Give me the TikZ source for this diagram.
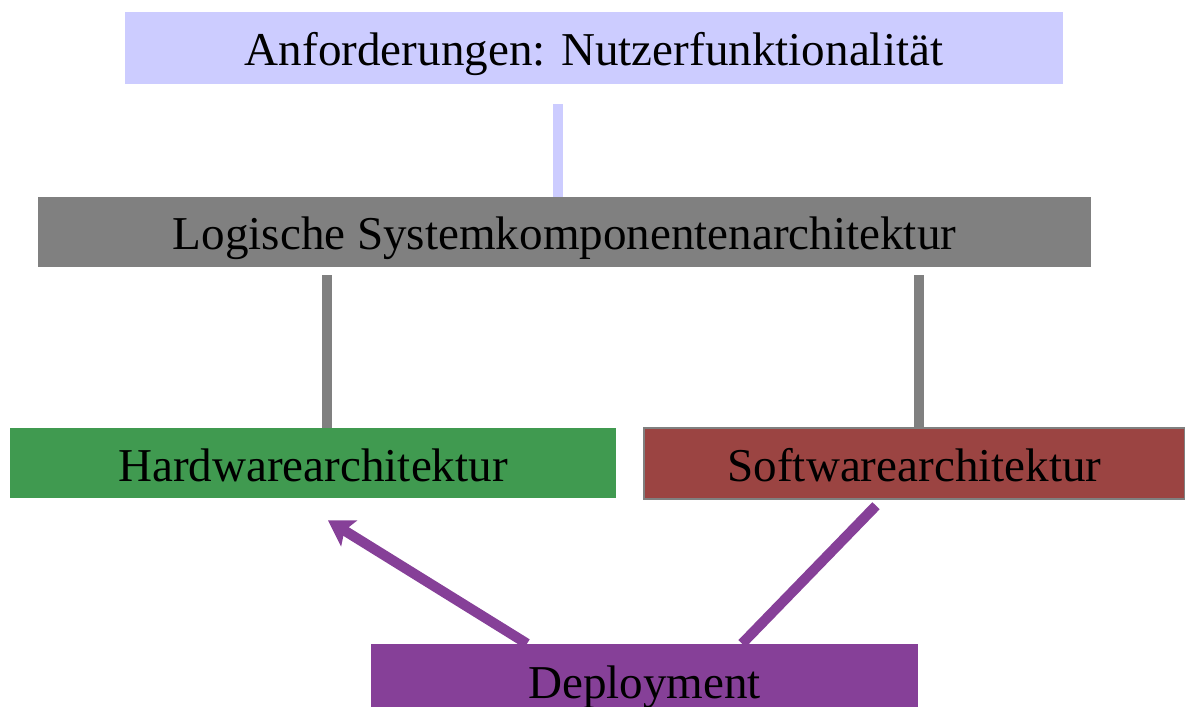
\documentclass[tikz,border=0pt]{standalone}
\usepackage{fontspec}
\setmainfont{Liberation Serif}
\usetikzlibrary{arrows.meta,calc}
\definecolor{lavender}{RGB}{204,204,255}
\definecolor{boxgray}{RGB}{128,128,128}
\definecolor{hwgreen}{RGB}{64,154,80}
\definecolor{swred}{RGB}{155,68,66}
\definecolor{deppurple}{RGB}{134,64,152}
\tikzset{
	layer/.style={rectangle,inner sep=0pt,text=black,text height=0.9cm,text depth=0.18cm,font=\fontsize{26.8}{32}\selectfont},
	link/.style={line width=5.8pt}
}
\begin{document}
\begin{tikzpicture}[x=0.02cm,y=-0.02cm]
		\useasboundingbox (0,0) rectangle (1185,706);
		\node[layer,fill=lavender,minimum width=18.76cm,minimum height=1.44cm] (anf) at (594,48) {Anforderungen: Nutzerfunktionalität};
		\node[layer,fill=boxgray,minimum width=21.06cm,minimum height=1.4cm] (log) at (564.5,232) {Logische Systemkomponentenarchitektur};
		\node[layer,fill=hwgreen,minimum width=12.12cm,minimum height=1.4cm] (hw) at (313,463) {Hardwarearchitektur};
		\node[layer,fill=swred,draw=boxgray,line width=0.8pt,minimum width=10.82cm,minimum height=1.42cm] (sw) at (914.5,463.5) {Softwarearchitektur};
		\node[layer,fill=deppurple,minimum width=10.94cm,minimum height=1.44cm] (dep) at (644.5,680) {Deployment};
		% Verbindungen
		\draw[link,lavender] ($(anf.south)+(-36,20)$) -- ($(anf.south |- log.north)+(-36,0)$);
		\draw[link,boxgray] ($(hw.north)+(14,0)$) -- ($(hw.north |- log.south)+(14,8)$);
		\draw[link,boxgray] ($(sw.north)+(4.5,0)$) -- ($(sw.north |- log.south)+(4.5,8)$);
		\draw[link,deppurple,-{Stealth[length=14pt,width=17pt,inset=3pt]}] ($(dep.north)+(-117.5,0)$) -- ($(hw.south)+(15,22)$);
		\draw[link,deppurple] ($(dep.north)+(97.5,0)$) -- ($(sw.south)+(-38.5,6)$);
	\end{tikzpicture}
\end{document}
